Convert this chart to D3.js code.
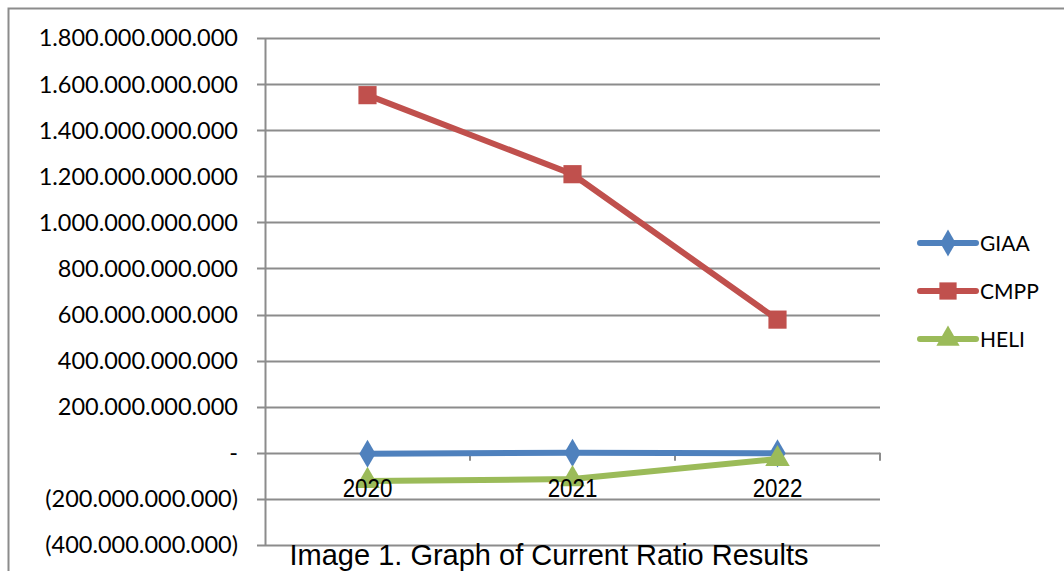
<!DOCTYPE html>
<html>
<head>
<meta charset="utf-8">
<script src="https://cdn.jsdelivr.net/npm/d3@7"></script>
<style>
  body { margin: 0; background: #fff; }
  svg { display: block; }
  .ylab { font-family: Lato, "Open Sans", sans-serif; font-size: 23.5px; fill: #000; }
  .xlab, .title { font-family: "Liberation Sans Narrow", "Arial Narrow", "Liberation Sans", sans-serif; fill: #000; }
  .leg { font-family: Lato, "Open Sans", sans-serif; font-size: 21px; fill: #000; }
</style>
</head>
<body>
<div class="chart"></div>
<script>
const years = ["2020", "2021", "2022"];
const seriesNames = ["GIAA", "CMPP", "HELI"];
const giaa = [-4e9, 0, -2e9];
const cmpp = [1552e9, 1209e9, 578e9];
const heli = [-122e9, -114e9, -27e9];
const yTicks = [-400e9, -200e9, 0, 200e9, 400e9, 600e9, 800e9, 1000e9, 1200e9, 1400e9, 1600e9, 1800e9];
const titleText = "Image 1. Graph of Current Ratio Results";

function Charting(){
    const width = 1064, height = 571;
    const colors = {GIAA: "#4F81BD", CMPP: "#C0504D", HELI: "#9BBB59"};
    const values = {GIAA: giaa, CMPP: cmpp, HELI: heli};

    const svg = d3.select(".chart").append("svg")
    .attr("width", width)
    .attr("height", height);

    // outer chart border (open on the right/bottom like the cropped original)
    svg.append("path")
    .attr("d", "M8.5," + height + "V8.5H" + width)
    .attr("fill", "none")
    .attr("stroke", "#8c8c8c")
    .attr("stroke-width", 2);

    const xBand = d3.scaleBand()
    .domain(years)
    .range([265, 880])
    .padding(0);

    const yScale = d3.scaleLinear()
    .domain([-400e9, 1800e9])
    .range([545, 38]);

    const loc = d3.formatLocale({decimal: ",", thousands: ".", grouping: [3], currency: ["", ""]});
    const f = loc.format(",.0f");
    const fmt = v => v === 0 ? "-" : (v < 0 ? "(" + f(-v) + ")" : f(v));

    // gridlines
    svg.append("g")
    .selectAll("line")
    .data(yTicks)
    .join("line")
    .attr("x1", 257)
    .attr("x2", 880)
    .attr("y1", d => Math.round(yScale(d)) + 0.5)
    .attr("y2", d => Math.round(yScale(d)) + 0.5)
    .attr("stroke", "#8c8c8c")
    .attr("stroke-width", 2);

    // y axis line
    svg.append("line")
    .attr("x1", 265.5).attr("x2", 265.5)
    .attr("y1", yScale(1800e9)).attr("y2", yScale(-400e9))
    .attr("stroke", "#8c8c8c")
    .attr("stroke-width", 2);

    // x ticks on zero line, at category boundaries
    const bounds = years.map(d => xBand(d) + xBand.bandwidth());
    svg.append("g")
    .selectAll("line")
    .data(bounds)
    .join("line")
    .attr("x1", d => d).attr("x2", d => d)
    .attr("y1", yScale(0)).attr("y2", yScale(0) + 8)
    .attr("stroke", "#8c8c8c")
    .attr("stroke-width", 2);

    // y labels
    svg.append("g")
    .selectAll("text")
    .data(yTicks)
    .join("text")
    .attr("class", "ylab")
    .attr("x", 238)
    .attr("y", d => yScale(d))
    .attr("dy", "0.36em")
    .attr("text-anchor", "end")
    .text(fmt);

    const cx = d => xBand(d) + xBand.bandwidth() / 2;

    const line = d3.line()
    .x((d, i) => cx(years[i]))
    .y(d => yScale(d));

    const shapes = {GIAA: d3.symbolDiamond, CMPP: d3.symbolSquare, HELI: d3.symbolTriangle};
    const sizes = {GIAA: 230, CMPP: 330, HELI: 260};

    seriesNames.forEach(name => {
        svg.append("path")
        .datum(values[name])
        .attr("d", line)
        .attr("fill", "none")
        .attr("stroke", colors[name])
        .attr("stroke-width", 6);

        svg.append("g")
        .selectAll("path")
        .data(values[name])
        .join("path")
        .attr("transform", (d, i) => "translate(" + cx(years[i]) + "," + yScale(d) + ")")
        .attr("d", d3.symbol().type(shapes[name]).size(sizes[name]))
        .attr("fill", colors[name]);
    });

    // category labels (narrow look)
    svg.append("g")
    .selectAll("text")
    .data(years)
    .join("text")
    .attr("class", "xlab")
    .attr("transform", d => "translate(" + cx(d) + ",497) scale(0.86,1)")
    .attr("text-anchor", "middle")
    .style("font-size", "26px")
    .text(d => d);

    // legend
    const legend = svg.selectAll(".legend")
    .data(seriesNames)
    .join("g")
    .attr("transform", (d, i) => "translate(920," + (243 + i * 48) + ")");

    legend.append("line")
    .attr("x1", 0).attr("x2", 56)
    .attr("stroke", d => colors[d])
    .attr("stroke-width", 6)
    .attr("stroke-linecap", "round");

    legend.append("path")
    .attr("transform", "translate(28,0)")
    .attr("d", d => d3.symbol().type(shapes[d]).size(sizes[d] * 0.9)())
    .attr("fill", d => colors[d]);

    legend.append("text")
    .attr("class", "leg")
    .attr("x", 60)
    .attr("dy", "0.36em")
    .text(d => d);

    svg.append("text")
    .attr("class", "title")
    .attr("x", 549)
    .attr("y", 565)
    .attr("text-anchor", "middle")
    .style("font-size", "29px")
    .text(titleText);
}

Charting();
</script>
</body>
</html>
